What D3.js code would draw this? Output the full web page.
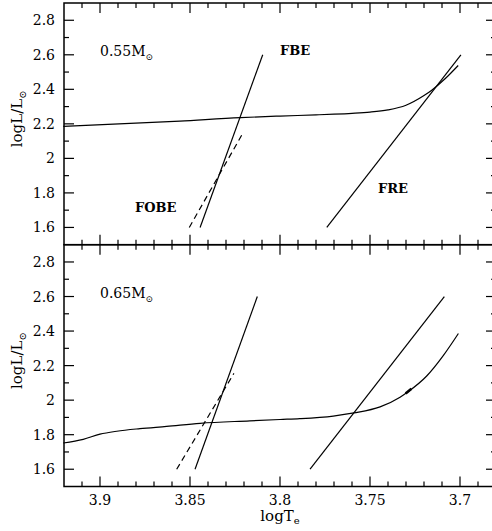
<!DOCTYPE html>
<html>
<head>
<meta charset="utf-8">
<script src="https://cdn.jsdelivr.net/npm/d3@7/dist/d3.min.js"></script>
<style>
  body { margin: 0; background: #fff; }
  svg text { font-family: "DejaVu Serif", serif; fill: #000; }
</style>
</head>
<body>
<svg id="chart" width="492" height="531"></svg>
<script>
const WIDTH   = 492;
const HEIGHT  = 531;
const LEFT    = 64;
const RIGHT   = 496;
const MAJOR   = 10;
const MINOR   = 5;

// panel vertical extents (top, bottom)
const PANELS = [
    { top: 3,     bottom: 244.7 },
    { top: 244.7, bottom: 486.5 }
];

const tempDomain   = [3.92, 3.68];
const lumDomain    = [1.5, 2.9];
const tempTicks    = [3.9, 3.85, 3.8, 3.75, 3.7];
const lumTicks     = [1.6, 1.8, 2, 2.2, 2.4, 2.6, 2.8];
const massLabels   = ['0.55', '0.65'];

// 0.55 Msun panel
const track055 = [
    [3.9204, 2.185], [3.8556, 2.216], [3.822, 2.236], [3.80, 2.245],
    [3.78, 2.252], [3.77, 2.256], [3.76, 2.261], [3.75, 2.268],
    [3.74, 2.281], [3.73, 2.308], [3.72, 2.364], [3.7157, 2.395],
    [3.7083, 2.461], [3.701, 2.538]
];
const fbe055  = [[3.8444, 1.6], [3.8096, 2.6]];
const fobe055 = [[3.8504, 1.6], [3.8207, 2.145]];
const fre055  = [[3.774, 1.6], [3.6995, 2.6]];

// 0.65 Msun panel
const track065 = [
    [3.9204, 1.752], [3.9093, 1.773], [3.90, 1.803], [3.8907, 1.82],
    [3.8778, 1.835], [3.863, 1.848], [3.8444, 1.866], [3.8167, 1.880],
    [3.80, 1.888], [3.789, 1.893], [3.7704, 1.908], [3.7589, 1.926],
    [3.7444, 1.961], [3.7333, 2.017], [3.7287, 2.05], [3.7185, 2.14],
    [3.7093, 2.258], [3.7009, 2.386]
];
const loop065 = [[3.7302, 2.038], [3.7270, 2.066]];
const fbe065  = [[3.8472, 1.6], [3.8126, 2.6]];
const fobe065 = [[3.8574, 1.6], [3.8256, 2.155]];
const fre065  = [[3.7833, 1.6], [3.7087, 2.6]];

const panelData = [
    { track: track055, fbe: fbe055, fobe: fobe055, fre: fre055, loop: null },
    { track: track065, fbe: fbe065, fobe: fobe065, fre: fre065, loop: loop065 }
];

const svg = d3.select('#chart');

const x = d3.scaleLinear().domain(tempDomain).range([LEFT, RIGHT]);

const xMinor = d3.range(369, 392).map(d => d / 100);
const yMinor = d3.range(16, 29).map(d => d / 10);

PANELS.forEach((p, i) => {
    const y = d3.scaleLinear().domain(lumDomain).range([p.bottom, p.top]);
    const g = svg.append('g');
    const data = panelData[i];

    // frame
    g.append('rect')
        .attr('x', LEFT).attr('y', p.top)
        .attr('width', RIGHT - LEFT).attr('height', p.bottom - p.top)
        .attr('fill', 'none').attr('stroke', '#000').attr('stroke-width', 1.5);

    // x ticks on top and bottom edges, pointing inward
    const isMajorX = v => tempTicks.some(t => Math.abs(t - v) < 1e-6);
    xMinor.forEach(v => {
        const len = isMajorX(v) ? MAJOR : MINOR;
        g.append('line')
            .attr('x1', x(v)).attr('x2', x(v))
            .attr('y1', p.top).attr('y2', p.top + len)
            .attr('stroke', '#000').attr('stroke-width', 1.2);
        g.append('line')
            .attr('x1', x(v)).attr('x2', x(v))
            .attr('y1', p.bottom).attr('y2', p.bottom - len)
            .attr('stroke', '#000').attr('stroke-width', 1.2);
    });

    // y ticks on left and right edges
    const isMajorY = v => lumTicks.some(t => Math.abs(t - v) < 1e-6);
    yMinor.forEach(v => {
        const len = isMajorY(v) ? MAJOR : MINOR;
        g.append('line')
            .attr('x1', LEFT).attr('x2', LEFT + len)
            .attr('y1', y(v)).attr('y2', y(v))
            .attr('stroke', '#000').attr('stroke-width', 1.2);
        g.append('line')
            .attr('x1', RIGHT).attr('x2', RIGHT - len)
            .attr('y1', y(v)).attr('y2', y(v))
            .attr('stroke', '#000').attr('stroke-width', 1.2);
    });

    // y tick labels
    g.selectAll('.ylab')
        .data(lumTicks)
        .join('text')
        .attr('x', LEFT - 9)
        .attr('y', d => y(d) + 5)
        .attr('text-anchor', 'end')
        .attr('font-size', 14)
        .text(d => String(d));

    // y axis title
    const yt = g.append('text')
        .attr('transform', `translate(22,${(p.top + p.bottom) / 2 - 5}) rotate(-90)`)
        .attr('text-anchor', 'middle')
        .attr('font-size', 15);
    yt.append('tspan').text('logL/L');
    yt.append('tspan').attr('font-size', 10).attr('dy', 4).text('\u2299');

    // mass label
    const ml = g.append('text')
        .attr('x', 100).attr('y', p.top + 53)
        .attr('font-size', 14);
    ml.append('tspan').text(massLabels[i] + 'M');
    ml.append('tspan').attr('font-size', 9).attr('dy', 4).text('\u2299');

    const line = d3.line().x(d => x(d[0])).y(d => y(d[1]));
    const smooth = d3.line().x(d => x(d[0])).y(d => y(d[1])).curve(d3.curveMonotoneX);

    g.append('path').attr('d', smooth(data.track))
        .attr('fill', 'none').attr('stroke', '#000').attr('stroke-width', 1.2);
    g.append('path').attr('d', line(data.fbe))
        .attr('fill', 'none').attr('stroke', '#000').attr('stroke-width', 1.2);
    g.append('path').attr('d', line(data.fre))
        .attr('fill', 'none').attr('stroke', '#000').attr('stroke-width', 1.2);
    g.append('path').attr('d', line(data.fobe))
        .attr('fill', 'none').attr('stroke', '#000').attr('stroke-width', 1.2)
        .attr('stroke-dasharray', '6,4');
    if (data.loop) {
        g.append('path').attr('d', line(data.loop))
            .attr('fill', 'none').attr('stroke', '#000').attr('stroke-width', 2.6);
    }

    if (i === 0) {
        const labels = g.append('g')
            .attr('font-size', 13)
            .attr('font-weight', 'bold');
        labels.append('text').attr('x', 280).attr('y', 55).text('FBE');
        labels.append('text').attr('x', 135).attr('y', 212).text('FOBE');
        labels.append('text').attr('x', 378).attr('y', 193).text('FRE');
    }
});

// x tick labels under the bottom panel
svg.selectAll('.xlab')
    .data(tempTicks)
    .join('text')
    .attr('x', d => x(d))
    .attr('y', 505)
    .attr('text-anchor', 'middle')
    .attr('font-size', 14)
    .text(d => String(d));

// x axis title
const xt = svg.append('text')
    .attr('x', 280).attr('y', 521)
    .attr('text-anchor', 'middle')
    .attr('font-size', 15);
xt.append('tspan').text('logT');
xt.append('tspan').attr('font-size', 10).attr('dy', 3).text('e');
</script>
</body>
</html>
